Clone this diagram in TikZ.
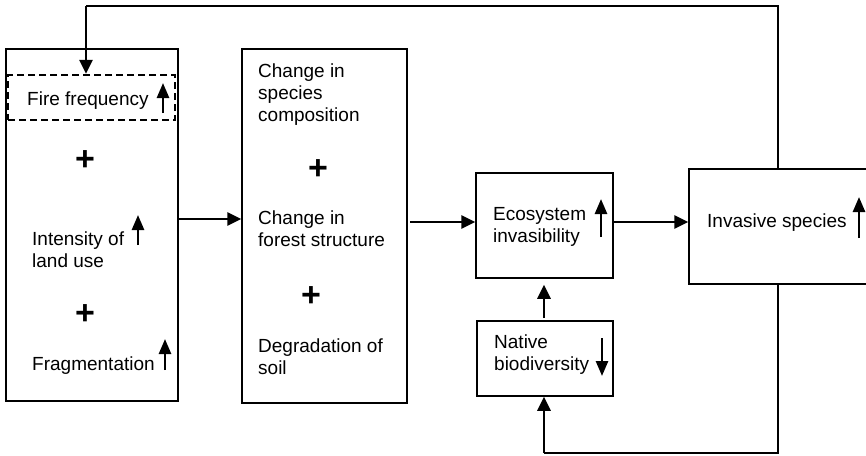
\documentclass[tikz,border=0pt]{standalone}
\usepackage{fontspec}
\setmainfont{Liberation Sans}
\usepackage{tikz}
\usetikzlibrary{arrows.meta,positioning,calc}
\tikzset{
  caixa/.style={rectangle, draw=black, line width=1.5pt, inner sep=0pt},
  tracejada/.style={rectangle, draw=black, line width=2.2pt,
                    dash pattern=on 7pt off 4pt, inner sep=0pt},
  texto/.style={anchor=base west, align=left, inner sep=0pt,
                font=\fontsize{19}{22}\selectfont},
  mais/.style={inner sep=0pt, font=\fontsize{34}{34}\selectfont\bfseries},
  seta/.style={-{Triangle[length=14pt,width=13pt]}, line width=2.8pt},
  linha/.style={line width=1.5pt},
  indicador/.style={-{Triangle[length=15pt,width=12pt]}, line width=2.6pt},
}

\begin{document}
\begin{tikzpicture}[x=1pt,y=-1pt]
  \useasboundingbox (0,0) rectangle (866,455);
  % caixas
  \node[caixa, minimum width=172pt, minimum height=352pt] (fatores) at (92,225) {};
  \node[caixa, minimum width=165pt, minimum height=354pt] (mudancas) at (324.5,226) {};
  \node[caixa, minimum width=137pt, minimum height=105pt] (invasib) at (544.5,225.5) {};
  \node[caixa, minimum width=136pt, minimum height=75pt] (nativa) at (545,358.5) {};
  \node[caixa, minimum width=200pt, minimum height=115pt] (invasoras) at (789,226.5) {};
  \node[tracejada, minimum width=167pt, minimum height=45pt] (fogo) at (91.5,97.5) {};
  % textos (base = ultima linha)
  \node[texto] (t-fogo) at (27,105) {Fire frequency};
  \node[mais] (m1) at (85,161) {+};
  \node[texto] (t-uso) at (32,267) {Intensity of\\land use};
  \node[mais] (m2) at (85,315) {+};
  \node[texto] (t-frag) at (32,370) {Fragmentation};
  \node[texto] (t-comp) at (258,121) {Change in\\species\\composition};
  \node[mais] (m3) at (318,170) {+};
  \node[texto] (t-estr) at (258,246) {Change in\\forest structure};
  \node[mais] (m4) at (311,297) {+};
  \node[texto] (t-solo) at (258,374) {Degradation of\\soil};
  \node[texto] (t-ecos) at (493,242) {Ecosystem\\invasibility};
  \node[texto] (t-nat) at (494,370) {Native\\biodiversity};
  \node[texto] (t-inv) at (707,227) {Invasive species};
  % setas de aumento / diminuicao
  \draw[indicador] (163,113) -- (163,83);
  \draw[indicador] (138,245) -- (138,215);
  \draw[indicador] (165,370) -- (165,339);
  \draw[indicador] (601,237) -- (601,199);
  \draw[indicador] (602,338) -- (602,376);
  \draw[indicador] (859,238) -- (859,197);
  % ligacoes
  \coordinate (ab) at (178,219);
  \coordinate (bc) at (410,222);
  \coordinate (dc) at (544,318);
  \draw[seta] (fatores.east |- ab) -- (mudancas.west |- ab);
  \draw[seta] (bc) -- (invasib.west |- bc);
  \draw[seta] (invasib.east |- bc) -- (invasoras.west |- bc);
  \draw[seta, shorten >=6pt] (dc) -- (invasib.south -| dc);
  % retroalimentacao
  \coordinate (topo) at (778,6);
  \coordinate (desce) at (86,6);
  \coordinate (base) at (778,453);
  \coordinate (sobe) at (544,453);
  \draw[linha] (invasoras.north -| topo) -- (topo) -- (desce);
  \draw[seta] (desce) -- (fogo.north -| desce);
  \draw[linha] (invasoras.south -| base) -- (base) -- (sobe);
  \draw[seta] (sobe) -- (nativa.south -| sobe);
\end{tikzpicture}
\end{document}
